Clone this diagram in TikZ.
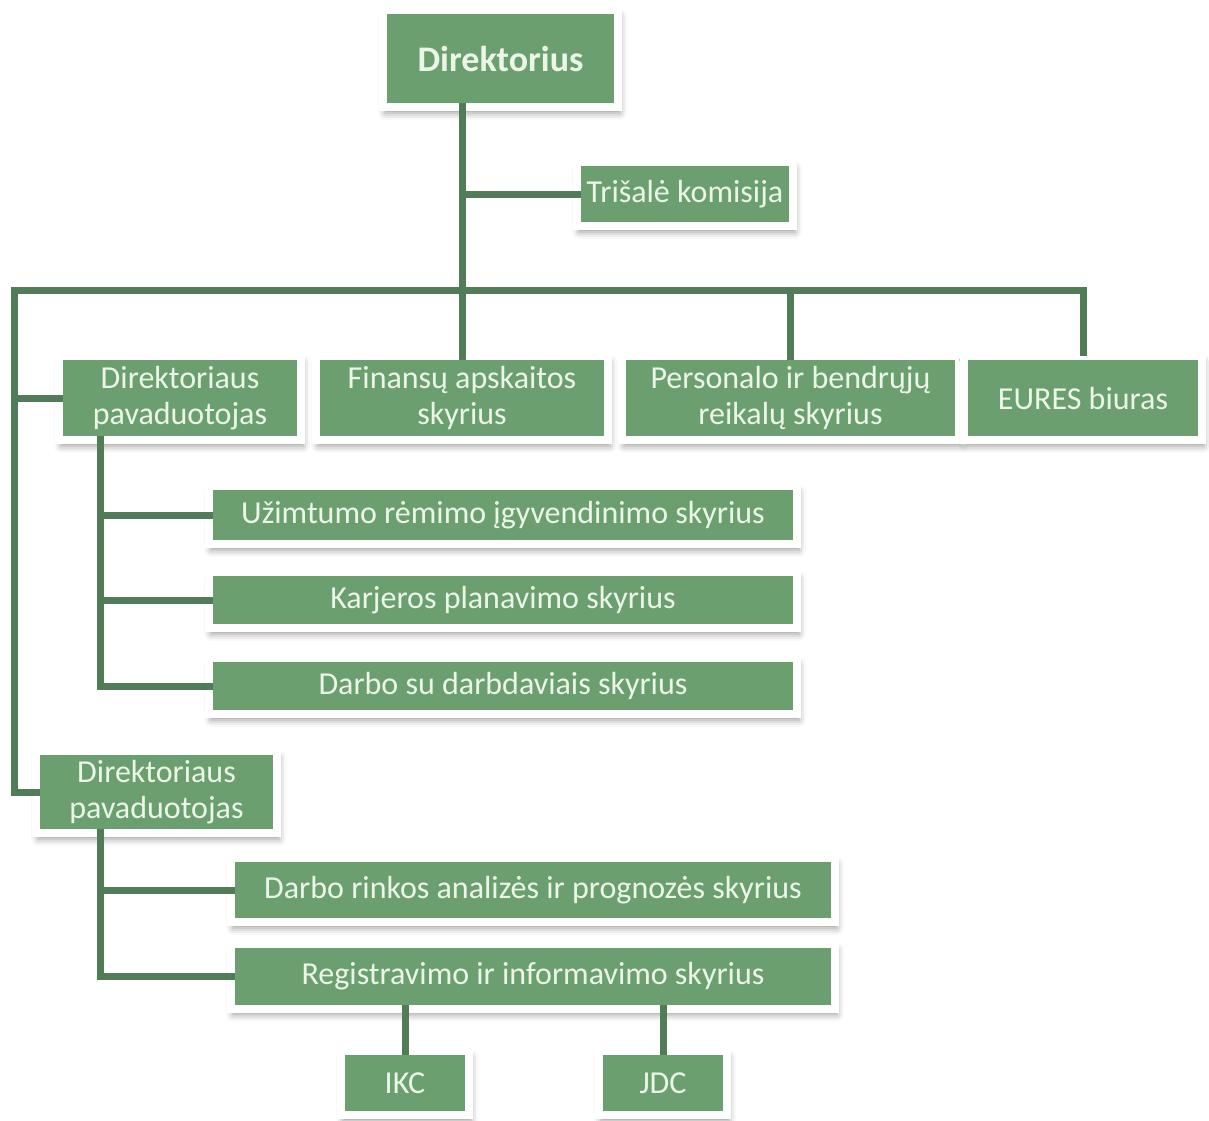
\documentclass[tikz,border=0pt]{standalone}
\usepackage{fontspec}
\setmainfont{Carlito}
\usetikzlibrary{shadows.blur}
\definecolor{boxgreen}{RGB}{108,159,111}
\definecolor{linegreen}{RGB}{80,124,88}
\definecolor{boxtext}{RGB}{236,246,232}
\tikzset{
  unit/.style={fill=boxgreen, draw=white, line width=8pt, text=boxtext,
    align=center, inner sep=0pt, outer sep=0pt,
    font=\fontsize{32}{36}\selectfont,
    blur shadow={shadow xshift=2pt, shadow yshift=-6pt,
      shadow blur radius=7pt, shadow opacity=40}},
  link/.style={draw=linegreen, line width=7pt, shorten <=-4pt}
}
\begin{document}
\begin{tikzpicture}[x=1pt,y=-1pt]
\useasboundingbox (0,0) rectangle (1209,1120);
% top
\node[unit, minimum width=235pt, minimum height=97pt,
  font=\fontsize{36}{40}\selectfont\bfseries] (dir) at (500.5,58.5) {Direktorius};
\node[unit, minimum width=216pt, minimum height=64pt] (tri) at (685,194) {Trišalė komisija};
% first row
\node[unit, minimum width=242pt, minimum height=84pt] (pav1) at (180,398) {Direktoriaus\\pavaduotojas};
\node[unit, minimum width=292pt, minimum height=84pt] (fin) at (462,398) {Finansų apskaitos\\skyrius};
\node[unit, minimum width=337pt, minimum height=84pt] (pers) at (790.5,398) {Personalo ir bendrųjų\\reikalų skyrius};
\node[unit, minimum width=238pt, minimum height=84pt] (eures) at (1083,398) {EURES biuras};
% under first deputy
\node[unit, minimum width=588pt, minimum height=58pt] (uzim) at (503,515) {Užimtumo rėmimo įgyvendinimo skyrius};
\node[unit, minimum width=588pt, minimum height=56pt] (karj) at (503,600) {Karjeros planavimo skyrius};
\node[unit, minimum width=588pt, minimum height=56pt] (darb) at (503,686) {Darbo su darbdaviais skyrius};
% second deputy
\node[unit, minimum width=241pt, minimum height=82pt] (pav2) at (156.5,792) {Direktoriaus\\pavaduotojas};
\node[unit, minimum width=604pt, minimum height=64pt] (rink) at (533,890) {Darbo rinkos analizės ir prognozės skyrius};
\node[unit, minimum width=604pt, minimum height=65pt] (reg) at (533,976) {Registravimo ir informavimo skyrius};
\node[unit, minimum width=128pt, minimum height=64pt] (ikc) at (405,1083) {IKC};
\node[unit, minimum width=128pt, minimum height=64pt] (jdc) at (663,1083) {JDC};
% lines
\coordinate (busL) at (14,290);
\draw[link, shorten >=-4pt] (fin.north) -- (fin.north |- dir.south);
\draw[link] (tri.west) -- (tri.west -| fin.north);
\draw[link, line join=miter] (pav2.west) -| (busL) -| (eures.north);
\draw[link] (pav1.west) -- (pav1.west -| busL);
\draw[link] (pers.north) -- (pers.north |- busL);
\draw[link, shorten >=-4pt, line join=miter] ([xshift=-80pt]pav1.south) |- (darb.west);
\draw[link] (uzim.west) -- ([xshift=-80pt]uzim.west -| pav1.south);
\draw[link] (karj.west) -- ([xshift=-80pt]karj.west -| pav1.south);
\draw[link, shorten >=-4pt, line join=miter] ([xshift=-56.5pt]pav2.south) |- (reg.west);
\draw[link] (rink.west) -- ([xshift=-56.5pt]rink.west -| pav2.south);
\draw[link, shorten >=-4pt] (ikc.north) -- (ikc.north |- reg.south);
\draw[link, shorten >=-4pt] (jdc.north) -- (jdc.north |- reg.south);
\end{tikzpicture}
\end{document}
